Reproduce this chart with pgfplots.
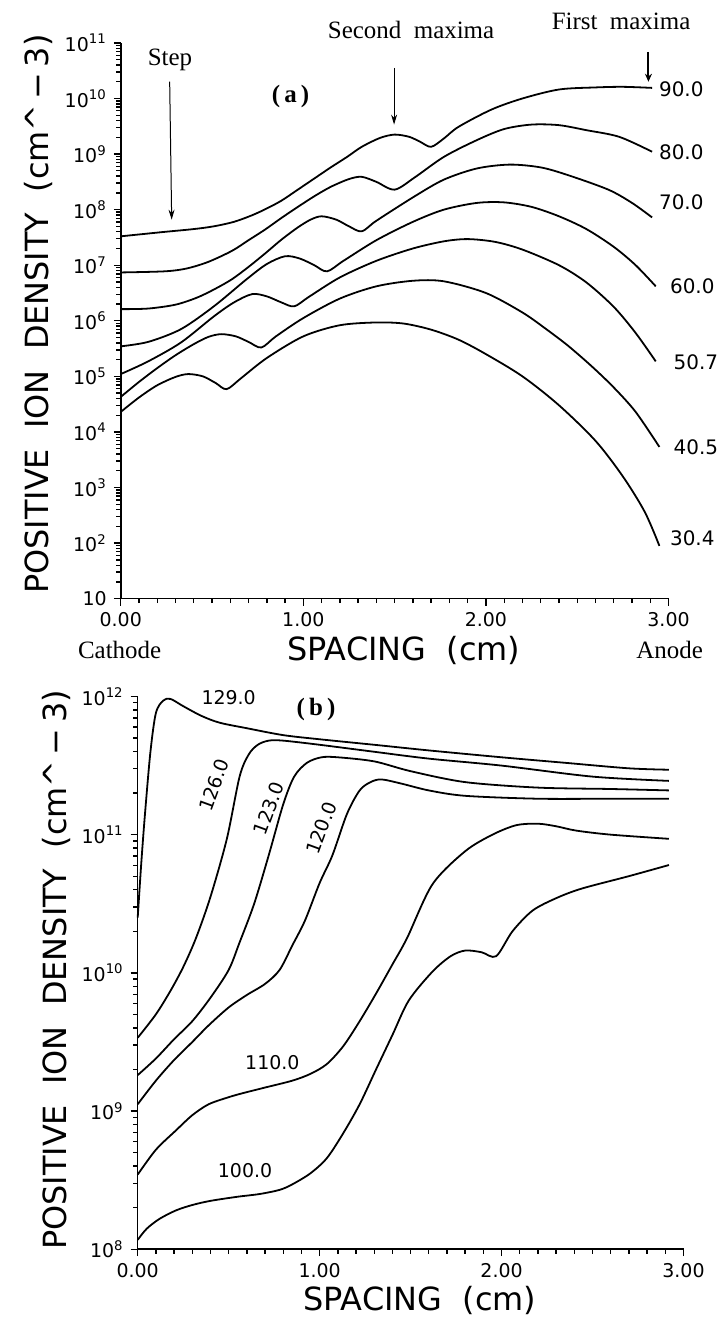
\documentclass[border=0pt]{standalone}
\usepackage{fontspec}
\setmainfont{DejaVu Sans}
\newfontfamily\serif{Liberation Serif}
\usepackage{pgfplots}
\pgfplotsset{compat=1.18}
\usetikzlibrary{arrows.meta}

\tikzset{
  curvelab/.style={font=\fontsize{10}{10}\selectfont, anchor=center},
  blab/.style={font=\fontsize{9.5}{10}\selectfont, anchor=center},
  note/.style={font=\serif\fontsize{12.5}{13}\selectfont, anchor=center},
  bnote/.style={font=\serif\bfseries\fontsize{12.5}{13}\selectfont, anchor=center},
}
\pgfplotsset{
  myax/.style={
    scale only axis,
    xmin=0, xmax=3,
    axis lines*=left,
    axis line style={line width=0.8pt, -},
    tick align=outside,
    major tick length=3.5pt, minor tick length=2.2pt,
    tick style={black, line width=0.7pt},
    xtick={0,1,2,3}, xticklabels={0.00,1.00,2.00,3.00},
    minor x tick num=9,
    ticklabel style={font=\fontsize{9.5}{10}\selectfont},
    label style={font=\fontsize{16}{16}\selectfont},
    xlabel={SPACING\ \ (cm)},
    ylabel={POSITIVE\ \ ION\ \ DENSITY\ \ (cm\textasciicircum\,−\,3)},
    clip=false,
    every axis plot post/.append style={black, solid, line width=0.9pt, smooth, mark=none},
  },
}

\begin{document}
\begin{tikzpicture}
\path (0,0) rectangle (362.5pt,660.5pt);

% (a) lower voltages
\begin{axis}[ymode=log, myax, at={(60.5pt,360.5pt)}, anchor=south west,
  width=274.5pt, height=278.5pt,
  ymin=10, ymax=1e11,
  ytick={10,1e2,1e3,1e4,1e5,1e6,1e7,1e8,1e9,1e10,1e11},
  yticklabels={10,10\textsuperscript{2},10\textsuperscript{3},10\textsuperscript{4},10\textsuperscript{5},10\textsuperscript{6},10\textsuperscript{7},10\textsuperscript{8},10\textsuperscript{9},10\textsuperscript{10},10\textsuperscript{11}},
  minor ytick={2e1,3e1,4e1,5e1,6e1,7e1,8e1,9e1,
    2e2,3e2,4e2,5e2,6e2,7e2,8e2,9e2,
    2e3,3e3,4e3,5e3,6e3,7e3,8e3,9e3,
    2e4,3e4,4e4,5e4,6e4,7e4,8e4,9e4,
    2e5,3e5,4e5,5e5,6e5,7e5,8e5,9e5,
    2e6,3e6,4e6,5e6,6e6,7e6,8e6,9e6,
    2e7,3e7,4e7,5e7,6e7,7e7,8e7,9e7,
    2e8,3e8,4e8,5e8,6e8,7e8,8e8,9e8,
    2e9,3e9,4e9,5e9,6e9,7e9,8e9,9e9,
    2e10,3e10,4e10,5e10,6e10,7e10,8e10,9e10},
  xlabel style={at={(rel axis cs:0.517,-0.093)}, anchor=center},
  ylabel style={at={(rel axis cs:-0.151,0.512)}, anchor=center},
]
% 90.0
\addplot table {
x y
0 3.31e7
0.12 3.63e7
0.24 3.98e7
0.40 4.47e7
0.51 5.01e7
0.62 6.03e7
0.72 7.94e7
0.80 1.05e8
0.88 1.45e8
0.97 2.29e8
1.06 3.63e8
1.15 5.75e8
1.24 8.91e8
1.32 1.35e9
1.42 1.95e9
1.50 2.24e9
1.58 2.04e9
1.64 1.66e9
1.70 1.35e9
1.77 1.91e9
1.85 3.09e9
2.03 6.31e9
2.20 1.00e10
2.40 1.45e10
2.60 1.58e10
2.75 1.62e10
2.91 1.55e10
};
% 80.0
\addplot table {
x y
0 7.41e6
0.24 7.76e6
0.36 8.71e6
0.48 1.15e7
0.61 1.82e7
0.70 2.82e7
0.79 4.37e7
0.88 7.08e7
0.97 1.12e8
1.06 1.74e8
1.15 2.57e8
1.25 3.55e8
1.32 3.89e8
1.40 3.16e8
1.50 2.29e8
1.61 3.80e8
1.77 8.91e8
1.95 1.78e9
2.10 2.82e9
2.25 3.39e9
2.40 3.31e9
2.55 2.69e9
2.73 2.04e9
2.91 1.10e9
};
% 70.0
\addplot table {
x y
0 1.62e6
0.15 1.66e6
0.30 1.95e6
0.42 2.63e6
0.52 3.80e6
0.61 5.62e6
0.70 9.33e6
0.79 1.62e7
0.88 2.88e7
0.97 4.79e7
1.04 6.61e7
1.10 7.59e7
1.18 6.61e7
1.25 5.01e7
1.32 4.07e7
1.40 6.31e7
1.61 1.74e8
1.77 3.47e8
1.95 5.50e8
2.13 6.46e8
2.30 5.75e8
2.45 4.17e8
2.67 2.29e8
2.80 1.32e8
2.91 7.24e7
};
% 60.0
\addplot table {
x y
0 3.47e5
0.15 4.17e5
0.33 7.08e5
0.51 1.82e6
0.69 5.62e6
0.80 1.05e7
0.90 1.45e7
0.98 1.32e7
1.06 1.00e7
1.13 7.76e6
1.22 1.20e7
1.40 2.82e7
1.60 6.03e7
1.77 1.00e8
1.95 1.32e8
2.10 1.35e8
2.25 1.12e8
2.40 7.59e7
2.55 4.47e7
2.70 2.14e7
2.82 1.00e7
2.93 4.17e6
};
% 50.7
\addplot table {
x y
0 1.10e5
0.15 1.86e5
0.33 4.07e5
0.51 1.20e6
0.62 2.14e6
0.72 3.02e6
0.80 2.75e6
0.88 2.14e6
0.95 1.82e6
1.03 2.69e6
1.20 6.03e6
1.40 1.20e7
1.60 2.00e7
1.77 2.69e7
1.90 2.95e7
2.05 2.63e7
2.20 1.91e7
2.40 1.00e7
2.55 4.90e6
2.70 1.78e6
2.82 6.03e5
2.93 1.86e5
};
% 40.5
\addplot table {
x y
0 4.27e4
0.10 7.94e4
0.20 1.41e5
0.30 2.40e5
0.40 3.80e5
0.48 5.13e5
0.55 5.75e5
0.63 5.25e5
0.70 4.17e5
0.77 3.31e5
0.85 5.25e5
1.00 1.12e6
1.20 2.51e6
1.40 4.17e6
1.60 5.25e6
1.77 5.13e6
2.00 3.16e6
2.20 1.41e6
2.33 7.08e5
2.45 3.55e5
2.58 1.51e5
2.70 6.31e4
2.82 2.29e4
2.95 5.37e3
};
% 30.4
\addplot table {
x y
0 2.29e4
0.10 4.17e4
0.20 6.92e4
0.30 9.77e4
0.37 1.10e5
0.45 1.00e5
0.52 7.59e4
0.58 5.89e4
0.66 9.33e4
0.80 2.14e5
1.00 5.25e5
1.20 8.32e5
1.40 9.33e5
1.55 8.91e5
1.70 6.92e5
1.85 4.57e5
2.00 2.51e5
2.20 1.00e5
2.40 3.02e4
2.60 6.92e3
2.75 1.58e3
2.87 3.63e2
2.95 8.91e1
};
\node[curvelab] at (axis cs:3.07,1.45e10) {90.0};
\node[curvelab] at (axis cs:3.07,1.07e9) {80.0};
\node[curvelab] at (axis cs:3.07,1.35e8) {70.0};
\node[curvelab] at (axis cs:3.13,4.17e6) {60.0};
\node[curvelab] at (axis cs:3.15,1.78e5) {50.7};
\node[curvelab] at (axis cs:3.15,5.37e3) {40.5};
\node[curvelab] at (axis cs:3.13,1.20e2) {30.4};
\node[note] at (axis cs:0.27,4.9e10) {Step};
\draw[-{Stealth[length=5pt,width=3pt]}, line width=0.5pt] (axis cs:0.268,2.0e10) -- (axis cs:0.279,6.6e7);
\node[bnote] at (axis cs:0.93,1.07e10) {(\,a\,)};
\node[note] at (axis cs:1.59,1.70e11) {Second\ \ maxima};
\draw[-{Stealth[length=5pt,width=3pt]}, line width=0.5pt] (axis cs:1.497,3.55e10) -- (axis cs:1.497,3.39e9);
\node[note] at (axis cs:2.74,2.40e11) {First\ \ maxima};
\draw[-{Stealth[length=4pt,width=3.5pt]}, line width=1pt] (axis cs:2.89,6.9e10) -- (axis cs:2.89,2.0e10);
\node[note] at (rel axis cs:-0.002,-0.093) {Cathode};
\node[note] at (rel axis cs:1.002,-0.093) {Anode};
\end{axis}

% (b) higher voltages
\begin{axis}[ymode=log, myax, at={(69pt,34.5pt)}, anchor=south west,
  width=273.5pt, height=277pt,
  ymin=1e8, ymax=1e12,
  ytick={1e8,1e9,1e10,1e11,1e12},
  yticklabels={10\textsuperscript{8},10\textsuperscript{9},10\textsuperscript{10},10\textsuperscript{11},10\textsuperscript{12}},
  minor ytick={2e8,3e8,4e8,5e8,6e8,7e8,8e8,9e8,
    2e9,3e9,4e9,5e9,6e9,7e9,8e9,9e9,
    2e10,3e10,4e10,5e10,6e10,7e10,8e10,9e10,
    2e11,3e11,4e11,5e11,6e11,7e11,8e11,9e11},
  xlabel style={at={(rel axis cs:0.517,-0.092)}, anchor=center},
  ylabel style={at={(rel axis cs:-0.148,0.505)}, anchor=center},
]
% 129.0
\addplot table {
x y
0 2.51e10
0.02 6.31e10
0.04 1.41e11
0.07 3.98e11
0.10 7.59e11
0.14 9.33e11
0.18 9.60e11
0.25 8.51e11
0.35 7.24e11
0.45 6.46e11
0.60 5.89e11
0.80 5.25e11
1.00 4.90e11
1.30 4.47e11
1.60 4.07e11
2.00 3.63e11
2.35 3.31e11
2.70 3.02e11
2.92 2.95e11
};
% 126.0
\addplot table {
x y
0 3.39e9
0.10 5.01e9
0.18 7.41e9
0.25 1.10e10
0.32 1.78e10
0.40 3.55e10
0.49 9.33e10
0.56 2.63e11
0.61 3.80e11
0.66 4.47e11
0.72 4.79e11
0.80 4.79e11
1.00 4.47e11
1.30 3.98e11
1.60 3.55e11
2.00 3.16e11
2.50 2.63e11
2.92 2.45e11
};
% 123.0
\addplot table {
x y
0 1.82e9
0.10 2.40e9
0.20 3.31e9
0.30 4.47e9
0.40 6.61e9
0.50 1.05e10
0.56 1.66e10
0.64 3.16e10
0.72 7.08e10
0.80 1.66e11
0.86 2.63e11
0.93 3.31e11
1.01 3.63e11
1.10 3.63e11
1.30 3.39e11
1.50 2.88e11
1.80 2.40e11
2.20 2.19e11
2.60 2.14e11
2.92 2.09e11
};
% 120.0
\addplot table {
x y
0 1.12e9
0.10 1.66e9
0.20 2.34e9
0.30 3.16e9
0.39 4.17e9
0.50 5.62e9
0.60 6.92e9
0.70 8.32e9
0.78 1.05e10
0.85 1.58e10
0.92 2.40e10
1.00 4.47e10
1.07 7.08e10
1.15 1.41e11
1.22 2.09e11
1.28 2.40e11
1.34 2.51e11
1.45 2.34e11
1.60 2.09e11
1.80 1.91e11
2.20 1.82e11
2.60 1.82e11
2.92 1.82e11
};
% 110.0
\addplot table {
x y
0 3.47e8
0.10 5.25e8
0.21 7.24e8
0.30 9.33e8
0.39 1.12e9
0.50 1.26e9
0.58 1.35e9
0.70 1.48e9
0.85 1.66e9
0.95 1.86e9
1.04 2.19e9
1.13 2.95e9
1.22 4.47e9
1.31 7.08e9
1.40 1.15e10
1.48 1.78e10
1.62 4.37e10
1.80 7.59e10
1.95 1.00e11
2.08 1.17e11
2.20 1.20e11
2.30 1.15e11
2.41 1.07e11
2.60 1.00e11
2.92 9.33e10
};
% 100.0
\addplot table {
x y
0 1.17e8
0.05 1.41e8
0.12 1.66e8
0.21 1.91e8
0.30 2.09e8
0.40 2.24e8
0.55 2.40e8
0.67 2.51e8
0.78 2.69e8
0.85 2.95e8
0.95 3.55e8
1.04 4.57e8
1.13 6.92e8
1.22 1.12e9
1.31 2.00e9
1.40 3.55e9
1.49 6.31e9
1.62 1.02e10
1.72 1.32e10
1.80 1.45e10
1.89 1.41e10
1.97 1.32e10
2.06 2.00e10
2.17 2.82e10
2.30 3.47e10
2.44 4.07e10
2.70 5.01e10
2.92 6.03e10
};
\node[blab] at (axis cs:0.50,9.8e11) {129.0};
\node[bnote] at (axis cs:0.98,8.1e11) {(\,b\,)};
\node[blab, rotate=70] at (axis cs:0.42,2.29e11) {126.0};
\node[blab, rotate=70] at (axis cs:0.72,1.55e11) {123.0};
\node[blab, rotate=70] at (axis cs:1.01,1.12e11) {120.0};
\node[blab] at (axis cs:0.74,2.24e9) {110.0};
\node[blab] at (axis cs:0.59,3.72e8) {100.0};
\end{axis}
\end{tikzpicture}
\end{document}
